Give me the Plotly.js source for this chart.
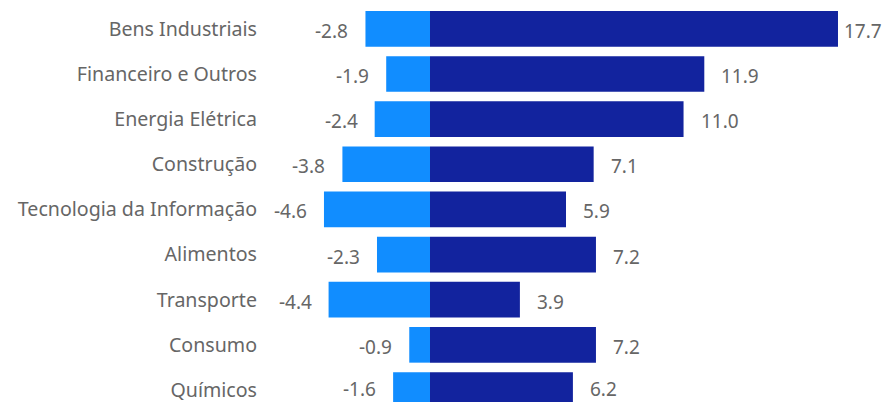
<!DOCTYPE html>
<html>
<head>
<meta charset="utf-8">
<script src="https://cdn.plot.ly/plotly-3.0.1.min.js"></script>
<style>html,body{margin:0;padding:0;background:#fff;}#chart{width:889px;height:402px;}</style>
</head>
<body>
<div id="chart"></div>
<script>
const categories = ["Bens Industriais","Financeiro e Outros","Energia Elétrica","Construção","Tecnologia da Informação","Alimentos","Transporte","Consumo","Químicos"];
const negValues = [-2.8,-1.9,-2.4,-3.8,-4.6,-2.3,-4.4,-0.9,-1.6];
const posValues = [17.7,11.9,11.0,7.1,5.9,7.2,3.9,7.2,6.2];

const FONT = "Noto Sans, Open Sans, sans-serif";
const LABEL_COLOR = "#666666";
const FS = 19;
const CAT_FS = 19.6;

const W = 889, H = 402;
const L = 262, R = 889;
const zeroPx = 430, pxPerUnit = 23.05;
const xRange = [(L - zeroPx) / pxPerUnit, (R - zeroPx) / pxPerUnit];
const c0 = 28.85, step = 45.14;
const yRange = [(H - c0) / step, -c0 / step];

const fmt = v => v.toFixed(1);

const traces = [
  {type:'bar', orientation:'h', y:categories, x:negValues, marker:{color:'#118DFF'}, width:0.79, hoverinfo:'x+y'},
  {type:'bar', orientation:'h', y:categories, x:posValues, marker:{color:'#12239E'}, width:0.79, hoverinfo:'x+y'}
];

const annotations = [];
const gap = 16;
const halfLine = 13.5;
categories.forEach((c, i) => {
  const rowPx = c0 + i * step;
  let ysh = -2;
  if (rowPx - ysh + halfLine > H) ysh = rowPx + halfLine - H;
  annotations.push({x:negValues[i], y:c, xref:'x', yref:'y', text:fmt(negValues[i]), showarrow:false,
    xanchor:'right', xshift:-gap, yshift:ysh, borderpad:0, font:{family:FONT, size:FS, color:LABEL_COLOR}});
  // clamp positive labels inside the canvas
  const endPx = zeroPx + posValues[i] * pxPerUnit;
  const txtW = fmt(posValues[i]).length * 11.5;
  const sh = Math.max(2, Math.min(gap, W - endPx - txtW));
  annotations.push({x:posValues[i], y:c, xref:'x', yref:'y', text:fmt(posValues[i]), showarrow:false,
    xanchor:'left', xshift:sh, yshift:ysh, borderpad:0, font:{family:FONT, size:FS, color:LABEL_COLOR}});
});

const layout = {
  width:W, height:H,
  margin:{l:L, r:W - R, t:0, b:0, pad:0},
  paper_bgcolor:'#fff', plot_bgcolor:'#fff',
  barmode:'relative',
  showlegend:false,
  font:{family:FONT, size:FS, color:LABEL_COLOR},
  xaxis:{range:xRange, showgrid:false, zeroline:false, showticklabels:false, ticks:'', fixedrange:true},
  yaxis:{type:'category', range:yRange, showgrid:false, zeroline:false, ticks:'', ticklabelstandoff:4,
    tickfont:{family:FONT, size:CAT_FS, color:LABEL_COLOR}, fixedrange:true},
  annotations:annotations
};

Plotly.newPlot('chart', traces, layout, {displayModeBar:false, staticPlot:true});
</script>
</body>
</html>
